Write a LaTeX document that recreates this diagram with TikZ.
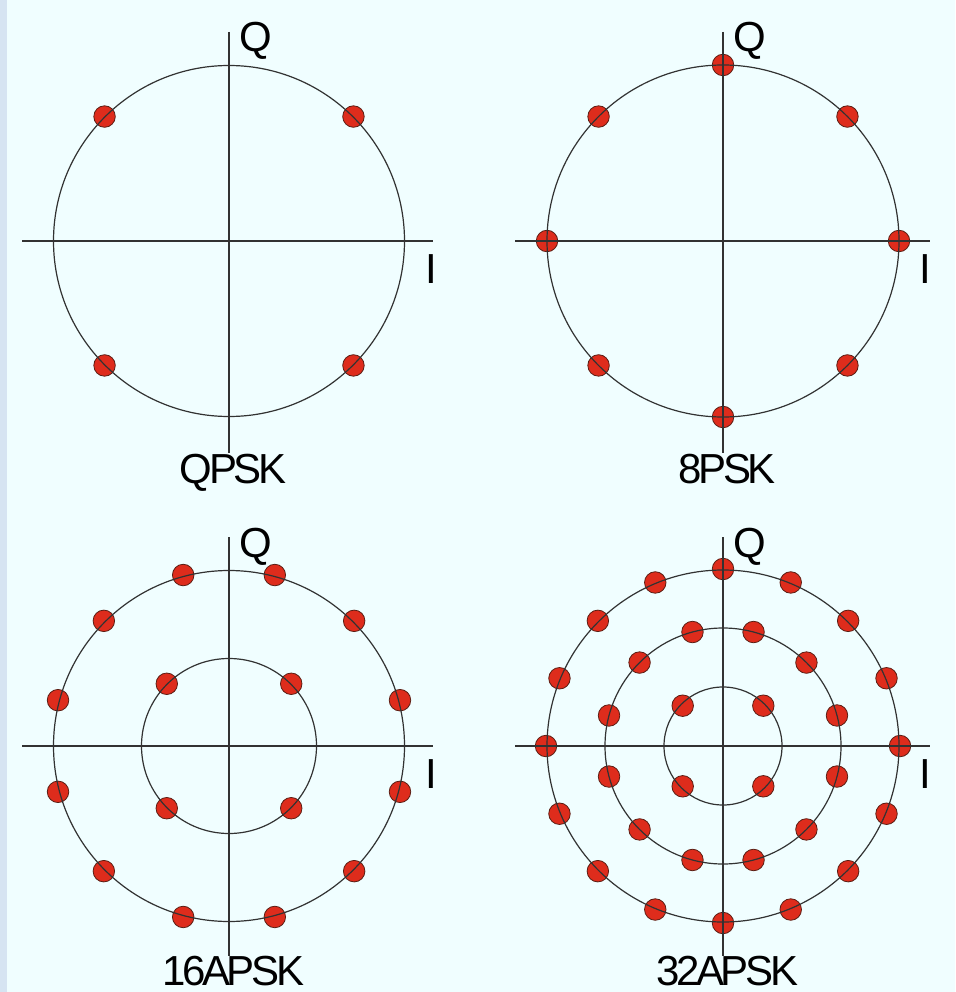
\documentclass[tikz,border=0pt]{standalone}
\usepackage{fontspec}
\setmainfont{Liberation Sans}
\newfontfamily\titlefont[LetterSpace=-8]{Liberation Sans}
\definecolor{bgcol}{RGB}{240,254,255}
\definecolor{stripcol}{RGB}{214,228,242}
\definecolor{dotred}{RGB}{222,44,28}
\definecolor{dotedge}{RGB}{90,30,20}
\definecolor{linecol}{RGB}{50,50,50}
\tikzset{
  dot/.style={circle,fill=dotred,draw=dotedge,line width=0.8pt,minimum size=21.5pt,inner sep=0pt},
  ring/.style={draw=linecol,line width=1.2pt},
  axis/.style={draw=linecol,line width=1.2pt},
  axlab/.style={anchor=base,inner sep=0pt,font=\fontsize{42}{42}\selectfont,text=black},
  title/.style={anchor=base,inner sep=0pt,font=\fontsize{42}{42}\titlefont,text=black}
}
\begin{document}
\begin{tikzpicture}[x=1pt,y=-1pt]
\fill[bgcol] (0,0) rectangle (955,992);
\fill[stripcol] (0,0) rectangle (7,992);
\useasboundingbox (0,0) rectangle (955,992);

% ---------- QPSK ----------
\begin{scope}[shift={(229,241)}]
  \foreach \a in {45,135,225,315} \node[dot] (qp\a) at (\a:176) {};
  \draw[ring] (0,0) circle[radius=175.5];
  \draw[axis] (-207,0) -- (204,0);
  \draw[axis] (0,-209) -- (0,212);
\end{scope}
\node[axlab] (q1) at (256,52) {Q};
\node[axlab] (i1) at (431.5,283) {I};
\node[title] (t1) at (233,483) {QPSK};

% ---------- 8PSK ----------
\begin{scope}[shift={(723,241)}]
  \foreach \a in {0,45,...,315} \node[dot] (ep\a) at (\a:176) {};
  \draw[ring] (0,0) circle[radius=176];
  \draw[axis] (-208,0) -- (207,0);
  \draw[axis] (0,-209) -- (0,212);
\end{scope}
\node[axlab] (q2) at (750,52) {Q};
\node[axlab] (i2) at (925.5,283) {I};
\node[title] (t2) at (727,483) {8PSK};

% ---------- 16APSK ----------
\begin{scope}[shift={(229,746)}]
  \foreach \a in {15,45,...,345} \node[dot] (sa\a) at (\a:177) {};
  \foreach \a in {45,135,225,315} \node[dot] (sb\a) at (\a:88) {};
  \draw[ring] (0,0) circle[radius=175.5];
  \draw[ring] (0,0) circle[radius=87.5];
  \draw[axis] (-207,0) -- (204,0);
  \draw[axis] (0,-209) -- (0,210);
\end{scope}
\node[axlab] (q3) at (256,557) {Q};
\node[axlab] (i3) at (431.5,788) {I};
\node[title] (t3) at (233,985) {16APSK};

% ---------- 32APSK ----------
\begin{scope}[shift={(723,746)}]
  \foreach \a in {0,22.5,...,337.5} \node[dot] (ta\a) at (\a:177) {};
  \foreach \a in {15,45,...,345} \node[dot] (tb\a) at (\a:118) {};
  \foreach \a in {45,135,225,315} \node[dot] (tc\a) at (\a:57) {};
  \draw[ring] (0,0) circle[radius=176];
  \draw[ring] (0,0) circle[radius=118];
  \draw[ring] (0,0) circle[radius=59];
  \draw[axis] (-208,0) -- (207,0);
  \draw[axis] (0,-209) -- (0,210);
\end{scope}
\node[axlab] (q4) at (750,557) {Q};
\node[axlab] (i4) at (925.5,788) {I};
\node[title] (t4) at (727,985) {32APSK};
\end{tikzpicture}
\end{document}
